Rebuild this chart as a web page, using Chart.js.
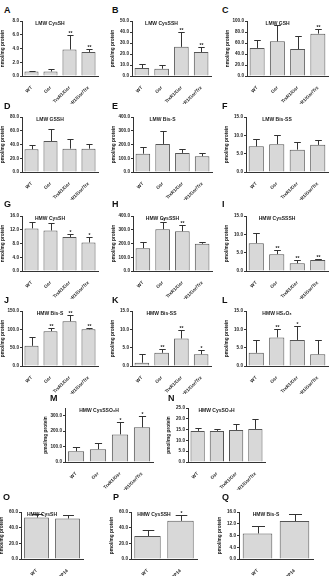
<!DOCTYPE html>
<html>
<head>
<meta charset="utf-8">
<script src="https://cdn.jsdelivr.net/npm/chart.js@4"></script>
<style>
body { margin: 0; background: #fff; width: 332px; height: 576px; position: relative; overflow: hidden;
       font-family: "Liberation Sans", Arial, sans-serif; }
canvas { position: absolute; }
.letter { position: absolute; font-weight: bold; font-size: 9px; line-height: 9px; color: #111; }
</style>
</head>
<body>
<script>
// categories
var catsLMW = ['WT', 'Gsr', 'TrxR1/Gsr', 'TrxR1/Gsr/Trx'];
var catsTRP = ['WT', 'TRP14'];

// values (mean, upper error, significance)
var aMean = [0.65, 0.65, 3.85, 3.5],  aErr = [0.15, 0.35, 2.15, 0.45], aStars = ['', '', '**', '**'];
var bMean = [7.2, 6.6, 26.5, 21.8],   bErr = [3.9, 3.0, 13.9, 4.4],    bStars = ['', '', '**', '**'];
var cMean = [51, 63, 49, 77],         cErr = [14, 29, 23, 8.5],        cStars = ['', '', '', '**'];
var dMean = [33, 45, 34, 34],         dErr = [7, 18, 14, 6.5],         dStars = ['', '', '', ''];
var eMean = [133, 204, 139, 115],     eErr = [47, 95, 29, 22],         eStars = ['', '', '', ''];
var fMean = [7.0, 7.6, 6.1, 7.4],     fErr = [2.0, 2.5, 2.2, 1.3],     fStars = ['', '', '', ''];
var gMean = [12.4, 11.8, 9.9, 8.3],   gErr = [1.8, 2.1, 0.9, 1.7],     gStars = ['', '', '*', '*'];
var hMean = [166, 304, 289, 198],     hErr = [44, 54, 49, 12],         hStars = ['', '**', '**', ''];
var iMean = [7.6, 4.6, 2.1, 3.0],     iErr = [2.9, 1.2, 1.0, 0.4],     iStars = ['', '**', '**', '**'];
var jMean = [55, 95, 122, 100],       jErr = [23, 10, 18, 3],          jStars = ['', '**', '**', '**'];
var kMean = [0.9, 3.6, 7.5, 3.2],     kErr = [2.3, 1.0, 2.4, 1.1],     kStars = ['', '**', '**', '*'];
var lMean = [3.6, 7.8, 7.1, 3.2],     lErr = [3.5, 2.2, 3.8, 3.9],     lStars = ['', '**', '*', ''];
var mMean = [70, 83, 179, 225],       mErr = [28, 42, 79, 75],         mStars = ['', '', '*', '*'];
var nMean = [14.4, 14.4, 14.8, 15.3], nErr = [1.2, 0.9, 2.7, 4.7],     nStars = ['', '', '', ''];
var oMean = [52.9, 51.7],             oErr = [4.2, 4.2],               oStars = ['', ''];
var pMean = [29.4, 48.7],             pErr = [7.6, 8.0],               pStars = ['', '*'];
var qMean = [8.7, 12.9],              qErr = [2.5, 2.5],               qStars = ['', ''];

var panels = [
  { letter: 'A', title: 'LMW CysSH',   unit: 'nmol/mg protein', cats: catsLMW, mean: aMean, err: aErr, stars: aStars, max: 8,   step: 2 },
  { letter: 'B', title: 'LMW CysSSH',  unit: 'pmol/mg protein', cats: catsLMW, mean: bMean, err: bErr, stars: bStars, max: 50,  step: 10 },
  { letter: 'C', title: 'LMW GSH',     unit: 'nmol/mg protein', cats: catsLMW, mean: cMean, err: cErr, stars: cStars, max: 100, step: 20 },
  { letter: 'D', title: 'LMW GSSH',    unit: 'pmol/mg protein', cats: catsLMW, mean: dMean, err: dErr, stars: dStars, max: 80,  step: 20 },
  { letter: 'E', title: 'LMW Bis-S',   unit: 'pmol/mg protein', cats: catsLMW, mean: eMean, err: eErr, stars: eStars, max: 400, step: 100 },
  { letter: 'F', title: 'LMW Bis-SS',  unit: 'pmol/mg protein', cats: catsLMW, mean: fMean, err: fErr, stars: fStars, max: 15,  step: 5 },
  { letter: 'G', title: 'HMW CysSH',   unit: 'nmol/mg protein', cats: catsLMW, mean: gMean, err: gErr, stars: gStars, max: 16,  step: 4 },
  { letter: 'H', title: 'HMW CysSSH',  unit: 'pmol/mg protein', cats: catsLMW, mean: hMean, err: hErr, stars: hStars, max: 400, step: 100 },
  { letter: 'I', title: 'HMW CysSSSH', unit: 'pmol/mg protein', cats: catsLMW, mean: iMean, err: iErr, stars: iStars, max: 15,  step: 5 },
  { letter: 'J', title: 'HMW Bis-S',   unit: 'pmol/mg protein', cats: catsLMW, mean: jMean, err: jErr, stars: jStars, max: 150, step: 50 },
  { letter: 'K', title: 'HMW Bis-SS',  unit: 'pmol/mg protein', cats: catsLMW, mean: kMean, err: kErr, stars: kStars, max: 15,  step: 5 },
  { letter: 'L', title: 'HMW HS\u2082O\u2083', unit: 'pmol/mg protein', cats: catsLMW, mean: lMean, err: lErr, stars: lStars, max: 15, step: 5 },
  { letter: 'M', title: 'HMW CysSSO\u2083H', unit: 'pmol/mg protein', cats: catsLMW, mean: mMean, err: mErr, stars: mStars, max: 350, step: 50 },
  { letter: 'N', title: 'HMW CysSO\u2083H',  unit: 'pmol/mg protein', cats: catsLMW, mean: nMean, err: nErr, stars: nStars, max: 25, step: 5 },
  { letter: 'O', title: 'HMW CysSH',   unit: 'nmol/mg protein', cats: catsTRP, mean: oMean, err: oErr, stars: oStars, max: 60,  step: 20 },
  { letter: 'P', title: 'HMW CysSSH',  unit: 'pmol/mg protein', cats: catsTRP, mean: pMean, err: pErr, stars: pStars, max: 60,  step: 20 },
  { letter: 'Q', title: 'HMW Bis-S',   unit: 'pmol/mg protein', cats: catsTRP, mean: qMean, err: qErr, stars: qStars, max: 16,  step: 4 }
];

// where each panel sits on the page: y axis x, top tick y, zero y, right edge, letter position
var layout = {
  A: [22, 21, 76, 98, 4, 6],    B: [132, 21, 76, 211, 112, 6],    C: [247, 21, 76, 328, 222, 6],
  D: [22, 117, 172, 98, 4, 102], E: [133, 117, 172, 212, 112, 102], F: [246, 117, 172, 328, 222, 102],
  G: [22, 216, 271, 98, 4, 200], H: [133, 216, 271, 212, 112, 200], I: [246, 216, 271, 328, 222, 200],
  J: [22, 311, 366, 98, 4, 296], K: [132, 311, 366, 211, 112, 296], L: [246, 311, 366, 328, 222, 296],
  M: [65, 408, 462, 153, 50, 394], N: [188, 408, 462, 265, 168, 394],
  O: [21, 512, 559, 83, 3, 493],  P: [131, 512, 559, 197, 113, 493], Q: [239, 512, 559, 313, 222, 493]
};

var YW = 22, PT = 6, PR = 2, XH = 28;
var ink = '#333';
Chart.defaults.font.family = '"Liberation Sans", Arial, sans-serif';
Chart.defaults.font.weight = 'bold';
Chart.defaults.color = '#222';

function overlay(p) {
  return {
    id: 'overlay',
    afterDatasetsDraw: function (chart) {
      var ctx = chart.ctx, y = chart.scales.y, meta = chart.getDatasetMeta(0);
      ctx.save();
      ctx.strokeStyle = ink;
      ctx.lineWidth = 1;
      ctx.fillStyle = '#222';
      ctx.textAlign = 'center';
      ctx.textBaseline = 'bottom';
      ctx.font = 'bold 5px "Liberation Sans", Arial, sans-serif';
      meta.data.forEach(function (bar, i) {
        var x = Math.round(bar.x) + 0.5;
        var top = Math.round(y.getPixelForValue(p.mean[i] + p.err[i])) + 0.5;
        var cap = bar.width * 0.22;
        ctx.beginPath();
        ctx.moveTo(x, bar.y);
        ctx.lineTo(x, top);
        ctx.moveTo(x - cap, top);
        ctx.lineTo(x + cap, top);
        ctx.stroke();
        if (p.stars[i]) ctx.fillText(p.stars[i], x, top + 1);
      });
      ctx.textBaseline = 'middle';
      ctx.fillText(p.title, chart.width / 2, chart.chartArea.top + 3);
      ctx.restore();
    }
  };
}

panels.forEach(function (p) {
  var L = layout[p.letter];
  var canvas = document.createElement('canvas');
  canvas.width = YW + (L[3] - L[0]) + PR;
  canvas.height = PT + (L[2] - L[1]) + XH;
  canvas.style.left = (L[0] - YW) + 'px';
  canvas.style.top = (L[1] - PT) + 'px';
  document.body.appendChild(canvas);

  var lab = document.createElement('div');
  lab.className = 'letter';
  lab.textContent = p.letter;
  lab.style.left = L[4] + 'px';
  lab.style.top = L[5] + 'px';
  document.body.appendChild(lab);

  new Chart(canvas.getContext('2d'), {
    type: 'bar',
    data: {
      labels: p.cats,
      datasets: [{
        data: p.mean,
        backgroundColor: '#d8d8d8',
        borderColor: '#555',
        borderWidth: 1,
        barPercentage: p.cats.length === 2 ? 0.8 : 0.74,
        categoryPercentage: 1
      }]
    },
    options: {
      responsive: false,
      animation: false,
      devicePixelRatio: 1,
      layout: { padding: { top: PT, right: PR, left: 0, bottom: 0 } },
      plugins: { legend: { display: false }, title: { display: false }, tooltip: { enabled: false } },
      scales: {
        x: {
          grid: { display: false },
          border: { display: true, color: ink, width: 1 },
          ticks: { font: { size: 4.6 }, minRotation: 45, maxRotation: 45, autoSkip: false, padding: 1 },
          afterFit: function (s) { s.height = XH; }
        },
        y: {
          min: 0,
          max: p.max,
          grid: { display: true, drawOnChartArea: false, drawTicks: true, tickLength: 2, color: ink },
          border: { display: true, color: ink, width: 1 },
          ticks: { stepSize: p.step, font: { size: 4.6 }, padding: 1, callback: function (v) { return v.toFixed(1); } },
          title: { display: true, text: p.unit, font: { size: 4.8 }, padding: 0 },
          afterFit: function (s) { s.width = YW; }
        }
      }
    },
    plugins: [overlay(p)]
  });
});
</script>
</body>
</html>
